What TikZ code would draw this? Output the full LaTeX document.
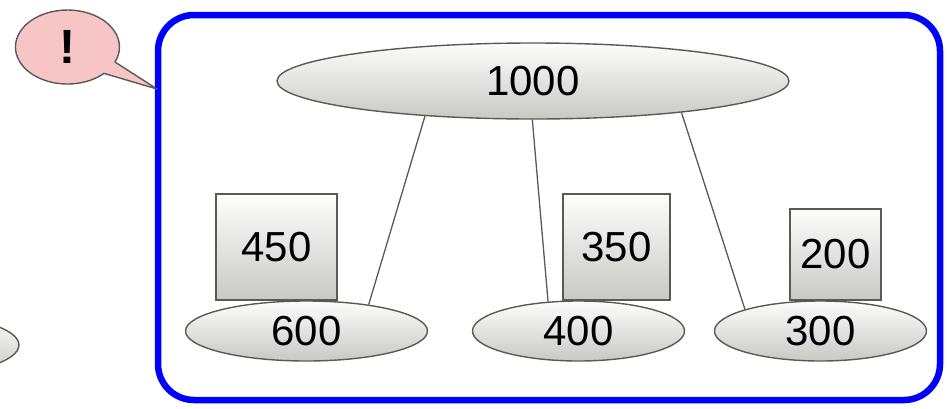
\documentclass[tikz,border=0pt]{standalone}
\usepackage{fontspec}
\setmainfont{Liberation Sans}
\usetikzlibrary{shapes.geometric}
\definecolor{edge}{HTML}{5A5A55}
\definecolor{shadetop}{HTML}{FDFDFD}
\definecolor{shadebot}{HTML}{C8C8C4}
\definecolor{bubble}{HTML}{F7C5C5}
\definecolor{frame}{HTML}{0000FF}
\begin{document}
\begin{tikzpicture}[x=1pt,y=-1pt,
  every node/.style={font=\fontsize{42}{50}\selectfont},
  shaded/.style={draw=edge, line width=1.4pt, top color=shadetop, bottom color=shadebot},
  oval/.style={shaded, ellipse, inner sep=0pt},
  valbox/.style={shaded, rectangle, inner sep=0pt},
  link/.style={draw=edge, line width=1.3pt}]
\useasboundingbox (0,0) rectangle (948,408);
\clip (0,0) rectangle (948,408);

% container frame
\node[draw=frame, line width=6.5pt, rounded corners=36pt, minimum width=782pt,
      minimum height=385pt, inner sep=0pt] (panel) at (549,207.5) {};

% speech bubble pointing at the frame
\coordinate (tip) at (157,89);
\draw[draw=edge, fill=bubble, line width=1.4pt, line join=round]
  (tip) -- (115,62) arc[start angle=23.9, end angle=-314.6, x radius=52, y radius=37] -- cycle;
\node[font=\bfseries\fontsize{48}{56}\selectfont] (alert) at (67,47) {!};

% partially visible node at the left edge
\node[oval, minimum width=200pt, minimum height=60pt] (prev) at (-81,345) {};

% value boxes (drawn first so the ovals overlap them)
\node[valbox, minimum width=121pt, minimum height=106pt] (b450) at (276.5,247) {450};
\node[valbox, minimum width=107pt, minimum height=106pt] (b350) at (616.5,247) {350};
\node[valbox, minimum width=91pt, minimum height=91pt] (b200) at (835.5,254.5) {200};

% tree nodes
\node[oval, minimum width=512pt, minimum height=76pt] (n1000) at (533,81) {1000};
\node[oval, minimum width=242pt, minimum height=60pt] (n600) at (306.5,331) {600};
\node[oval, minimum width=212pt, minimum height=60pt] (n400) at (578.5,331) {400};
\node[oval, minimum width=212pt, minimum height=60pt] (n300) at (820.5,331) {300};

% edges
\draw[link] (n1000.198) -- (n600.23);
\draw[link] (n1000.269) -- (n400.136);
\draw[link] (n1000.348.6) -- (n300.164);
\end{tikzpicture}
\end{document}
